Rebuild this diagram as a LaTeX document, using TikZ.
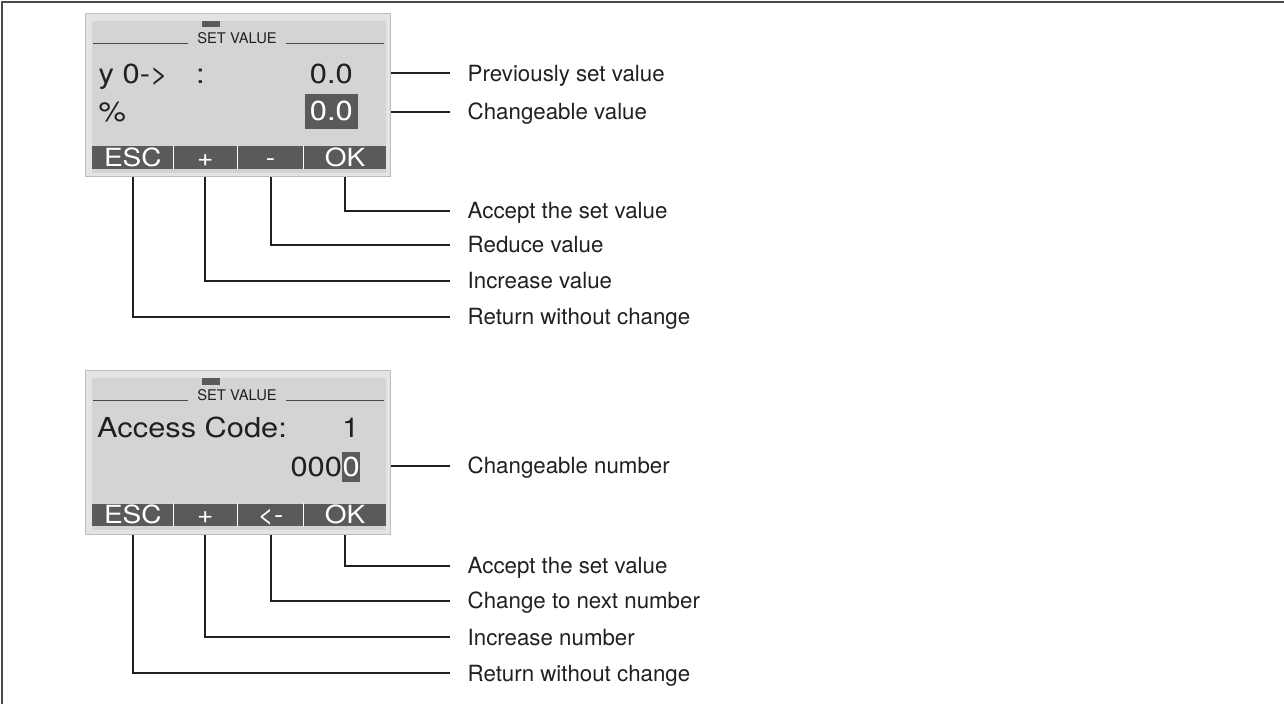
\documentclass[tikz,border=0pt]{standalone}
\usepackage{fontspec}
\setmainfont{TeX Gyre Heros}
\newfontfamily\lcdfont[FakeStretch=1.12]{TeX Gyre Heros}
\usetikzlibrary{positioning,backgrounds,calc}
\definecolor{ink}{HTML}{231F20}
\definecolor{bezel}{HTML}{E4E4E4}
\definecolor{bezeledge}{HTML}{BDBDBD}
\definecolor{screen}{HTML}{D4D4D4}
\definecolor{keybar}{HTML}{5A5A5A}
\definecolor{rule}{HTML}{4A4A4A}

\begin{document}
\begin{tikzpicture}[x=1pt, y=-1pt,
      lcd/.style={font=\lcdfont\fontsize{27.5}{31}\selectfont, text=ink, inner sep=0pt},
      key/.style={fill=keybar, text=white, inner sep=0pt, minimum height=22.3pt,
                  text height=17.6pt, text depth=0pt,
                  font=\lcdfont\fontsize{25}{28}\selectfont},
      hdr/.style={draw=rule, line width=0.9pt},
      lbl/.style={anchor=west, inner xsep=17.5pt, inner ysep=0pt, text=ink,
                  text height=15.8pt, text depth=0pt, font=\fontsize{22.3}{26}\selectfont},
      conn/.style={draw=ink, line width=2pt}]
    \useasboundingbox (0,0) rectangle (1284,704);
    \draw[rule, line width=1.7pt] (1.8,704) -- (1.8,1.8) -- (1284,1.8);

    % the two displays share bezel, header and soft keys
    \foreach \d/\dy/\kc in {1/0/-, 2/357.4/<-}{
      \begin{scope}[shift={(0,\dy)}]
        \node[draw=bezeledge, fill=bezel, line width=1pt, inner sep=0pt,
              minimum width=305.7pt, minimum height=163.4pt] (bezel\d) at (237.85,95) {};
        \fill[screen] (92.3,20.7) rectangle (386.3,172.5);
        \fill[keybar] (201.7,20.7) rectangle (220,27.3);
        \node[anchor=base, inner xsep=9pt, text=ink, font=\fontsize{14.7}{17}\selectfont]
          (set\d) at (237,43) {SET VALUE};
        \draw[hdr] (set\d.base west) -- ++(-95.4,0);
        \draw[hdr] (set\d.base east) -- ++(97.7,0);
        \node[key, minimum width=81pt] (esc\d) at (132.8,157.4) {ESC};
        \node[key, minimum width=63.4pt, right=0pt of esc\d] (plus\d) {+};
        \node[key, minimum width=66pt, right=0pt of plus\d] (minus\d) {\kc};
        \node[key, minimum width=82.3pt, right=0pt of minus\d] (ok\d) {OK};
        \foreach \k in {esc,plus,minus}
          \draw[white, line width=1.5pt] (\k\d.north east) -- (\k\d.south east);
      \end{scope}
    }

    % set value screen
    \node[lcd, anchor=base west] (tag1) at (98.5,83.3) {y 0->\hspace{28pt}:};
    \node[lcd, anchor=base east] (old1) at (353,83.3) {0.0};
    \node[lcd, anchor=base west] (unit1) at (98.5,121) {\%};
    \node[lcd, fill=keybar, text=white, minimum width=52.7pt, minimum height=34.7pt]
      (new1) at (331.35,111.35) {0.0};

    % access code screen
    \node[lcd, anchor=base west] (code2) at (97,437.3) {Access Code:};
    \node[lcd, anchor=base east] (idx2) at (359.5,437.3) {1};
    \node[lcd, fill=keybar, text=white, minimum width=17.7pt, minimum height=30pt]
      (cur2) at (351.15,466.7) {0};
    \node[lcd, anchor=base east] (digits2) at (cur2.base west) {000};

    % labels
    \node[lbl] (prev1) at (450,73.3) {Previously set value};
    \node[lbl] (chg1) at (450,112) {Changeable value};
    \node[lbl] (acc1) at (450,211) {Accept the set value};
    \node[lbl] (red1) at (450,245) {Reduce value};
    \node[lbl] (inc1) at (450,281) {Increase value};
    \node[lbl] (ret1) at (450,317) {Return without change};
    \node[lbl] (chg2) at (450,465.7) {Changeable number};
    \node[lbl] (acc2) at (450,566) {Accept the set value};
    \node[lbl] (nxt2) at (450,601) {Change to next number};
    \node[lbl] (inc2) at (450,637.3) {Increase number};
    \node[lbl] (ret2) at (450,673.3) {Return without change};

    \begin{scope}[on background layer]
      \draw[conn] (prev1.west) -- (prev1.west -| bezel1.east);
      \draw[conn] (chg1.west) -- (chg1.west -| bezel1.east);
      \draw[conn] (ok1.south) |- (acc1.west);
      \draw[conn] (minus1.south) |- (red1.west);
      \draw[conn] (plus1.south) |- (inc1.west);
      \draw[conn] (esc1.south) |- (ret1.west);
      \draw[conn] (chg2.west) -- (chg2.west -| bezel2.east);
      \draw[conn] (ok2.south) |- (acc2.west);
      \draw[conn] (minus2.south) |- (nxt2.west);
      \draw[conn] (plus2.south) |- (inc2.west);
      \draw[conn] (esc2.south) |- (ret2.west);
    \end{scope}
  \end{tikzpicture}
\end{document}
